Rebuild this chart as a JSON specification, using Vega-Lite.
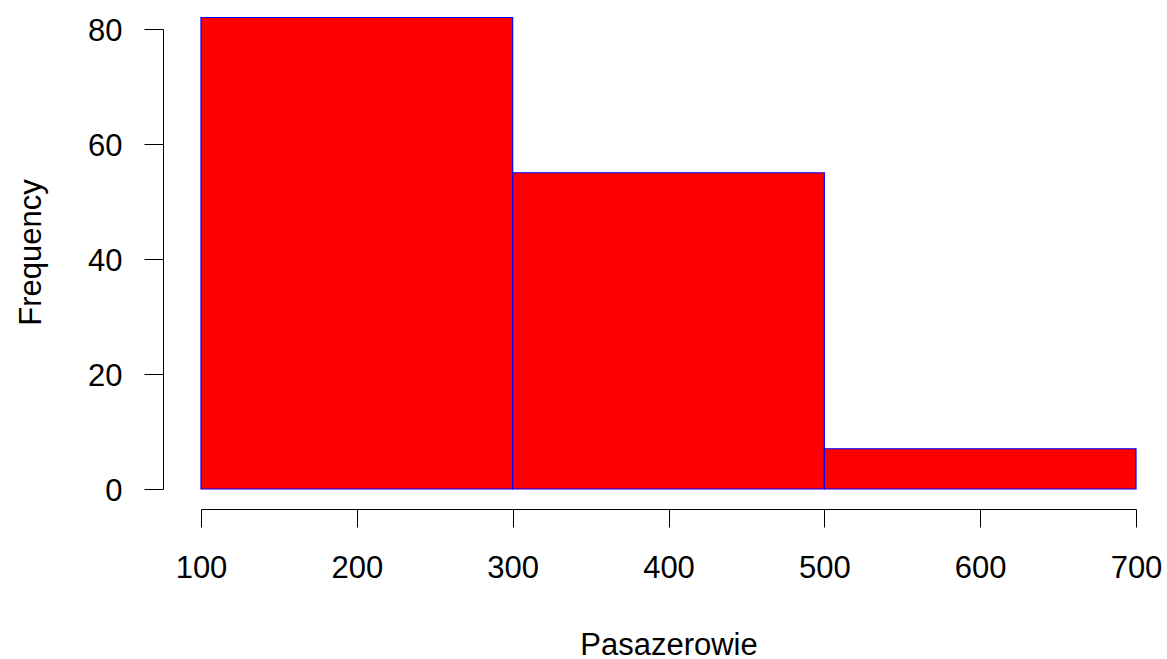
{
  "$schema": "https://vega.github.io/schema/vega-lite/v6.json",
  "autosize": {"type": "none"},
  "width": 935,
  "height": 460,
  "padding": {"left": 201, "top": 29, "right": 31, "bottom": 170},
  "background": "white",
  "config": {
    "view": {"stroke": null},
    "font": "Liberation Sans"
  },
  "data": {
    "values": [
      {"bin_start": 100, "bin_end": 300, "count": 82},
      {"bin_start": 300, "bin_end": 500, "count": 55},
      {"bin_start": 500, "bin_end": 700, "count": 7}
    ]
  },
  "mark": {"type": "bar", "fill": "#FF0000", "stroke": "#0000FF", "strokeWidth": 1.2, "clip": false},
  "encoding": {
    "x": {
      "field": "bin_start",
      "type": "quantitative",
      "scale": {"domain": [100, 700], "nice": false, "zero": false},
      "axis": {
        "title": "Pasazerowie",
        "values": [100, 200, 300, 400, 500, 600, 700],
        "offset": 20,
        "grid": false,
        "domainColor": "black",
        "domainWidth": 1,
        "tickColor": "black",
        "tickWidth": 1,
        "tickSize": 18,
        "labelFont": "Liberation Sans",
        "labelFontSize": 31,
        "labelColor": "black",
        "labelPadding": 26,
        "labelFlush": false,
        "labelOverlap": false,
        "titleFont": "Liberation Sans",
        "titleFontSize": 31,
        "titleFontWeight": "normal",
        "titleColor": "black",
        "titleBaseline": "alphabetic",
        "titleY": 145
      }
    },
    "x2": {"field": "bin_end"},
    "y": {
      "field": "count",
      "type": "quantitative",
      "scale": {"domain": [0, 80], "nice": false, "zero": true},
      "axis": {
        "title": "Frequency",
        "values": [0, 20, 40, 60, 80],
        "offset": 38,
        "grid": false,
        "domainColor": "black",
        "domainWidth": 1,
        "tickColor": "black",
        "tickWidth": 1,
        "tickSize": 19,
        "labelFont": "Liberation Sans",
        "labelFontSize": 31,
        "labelColor": "black",
        "labelPadding": 22,
        "labelBaseline": "middle",
        "labelOffset": 2,
        "labelFlush": false,
        "labelOverlap": false,
        "titleFont": "Liberation Sans",
        "titleFontSize": 31,
        "titleFontWeight": "normal",
        "titleColor": "black",
        "titleAngle": -90,
        "titleBaseline": "alphabetic",
        "titleAlign": "center",
        "titleX": -123,
        "titleY": 223
      }
    },
    "y2": {"datum": 0}
  }
}
